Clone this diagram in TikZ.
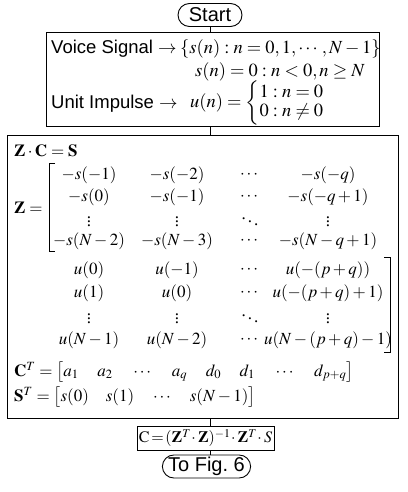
\documentclass[tikz,border=0pt]{standalone}
\usepackage{amsmath}
\usepackage{mathptmx}
\usepackage[no-math]{fontspec}
\setmainfont{Liberation Serif}
\setsansfont{Liberation Sans}
\usepackage{tikz}
\usetikzlibrary{shapes.misc,positioning}

\newcommand{\cgap}{\hspace{1.1em}}

\begin{document}
\begin{tikzpicture}[
    x=1pt, y=-1pt,
    every node/.style={font=\fontsize{18.5}{22}\selectfont},
    term/.style={rounded rectangle, draw, line width=0.9pt, minimum height=23pt, inner sep=1pt, font=\sffamily\fontsize{20}{22}\selectfont},
    procbox/.style={rectangle, draw, line width=0.9pt, inner sep=0pt},
    lbl/.style={anchor=west, inner sep=0pt, font=\sffamily\fontsize{18.5}{22}\selectfont},
    mth/.style={anchor=west, inner sep=0pt},
    eqn/.style={anchor=west, inner sep=0pt, font=\fontsize{17}{20}\selectfont},
    cell/.style={inner sep=0pt, font=\fontsize{17}{20}\selectfont},
    link/.style={line width=0.8pt}
]
    \useasboundingbox (0,0) rectangle (407,492);

    % flow boxes
    \node [term, minimum width=66pt] (start) at (210,15) {Start};
    \node [procbox, minimum width=333pt, minimum height=94pt] (input) at (212.5,79.5) {};
    \node [procbox, minimum width=391pt, minimum height=283pt] (model) at (202.5,276.5) {};
    \node [procbox, minimum width=137pt, minimum height=24pt, font=\fontsize{16}{20}\selectfont] (solve) at (205.5,438) {$\mathrm{C}\!=\!(\mathbf{Z}^T\!\cdot\mathbf{Z})^{-1}\!\cdot\mathbf{Z}^T\!\cdot S$};
    \node [term, minimum width=87pt] (tofig) at (206.5,466.5) {To Fig.~6};

    \draw [link] (start.south) -- (input.north -| start);
    \draw [link] (input.south -| start) -- (model.north -| start);
    \draw [link] (model.south -| start) -- (solve.north -| start);
    \draw [link] (solve.south -| start) -- (tofig.north -| start);

    % input signals
    \node [lbl] (voice) at (51,49) {Voice Signal $\rightarrow$};
    \node [mth] (seq) at (180,49) {$\{s(n): n=0,1,\cdots,N-1\}$};
    \node [mth] (zero) at (195,72) {$s(n)=0: n<0, n\geq N$};
    \node [lbl] (impulse) at (51,104) {Unit Impulse $\rightarrow$};
    \node [mth] (unit) at (190,103) {$u(n)=\renewcommand{\arraystretch}{0.9}\left\{\begin{array}{@{}l@{}}1: n=0\\ 0: n\neq 0\end{array}\right.$};

    % model equations
    \node [eqn] (eq) at (14,151) {$\mathbf{Z}\cdot\mathbf{C}=\mathbf{S}$};
    \node [eqn] (zlbl) at (14,208) {$\mathbf{Z}=$};
    \foreach \r/\y/\a/\b/\c/\d in {
        1/175/{-s(-1)}/{-s(-2)}/{\cdots}/{-s(-q)},
        2/197/{-s(0)}/{-s(-1)}/{\cdots}/{-s(-q+1)},
        3/219/{\vdots}/{\vdots}/{\ddots}/{\vdots},
        4/241/{-s(N-2)}/{-s(N-3)}/{\cdots}/{-s(N-q+1)},
        5/270/{u(0)}/{u(-1)}/{\cdots}/{u(-(p+q))},
        6/293/{u(1)}/{u(0)}/{\cdots}/{u(-(p+q)+1)},
        7/316/{\vdots}/{\vdots}/{\ddots}/{\vdots},
        8/340/{u(N-1)}/{u(N-2)}/{\cdots}/{u(N-(p+q)-1)}} {
        \node [cell] (z-\r-1) at (89,\y) {$\a$};
        \node [cell] (z-\r-2) at (177,\y) {$\b$};
        \node [cell] (z-\r-3) at (250,\y) {$\c$};
        \node [cell] (z-\r-4) at (328,\y) {$\d$};
    }
    \draw [link] (55,163) -- (49,163) -- (49,251) -- (55,251);
    \draw [link] (384,257) -- (390,257) -- (390,352) -- (384,352);

    \node [eqn] (ct) at (14,372) {$\mathbf{C}^T=\bigl[a_1\cgap a_2\cgap\cdots\cgap a_q\cgap d_0\cgap d_1\cgap\cdots\cgap d_{p+q}\bigr]$};
    \node [eqn] (st) at (14,397) {$\mathbf{S}^T=\bigl[s(0)\quad s(1)\quad\cdots\quad s(N-1)\bigr]$};
\end{tikzpicture}
\end{document}
